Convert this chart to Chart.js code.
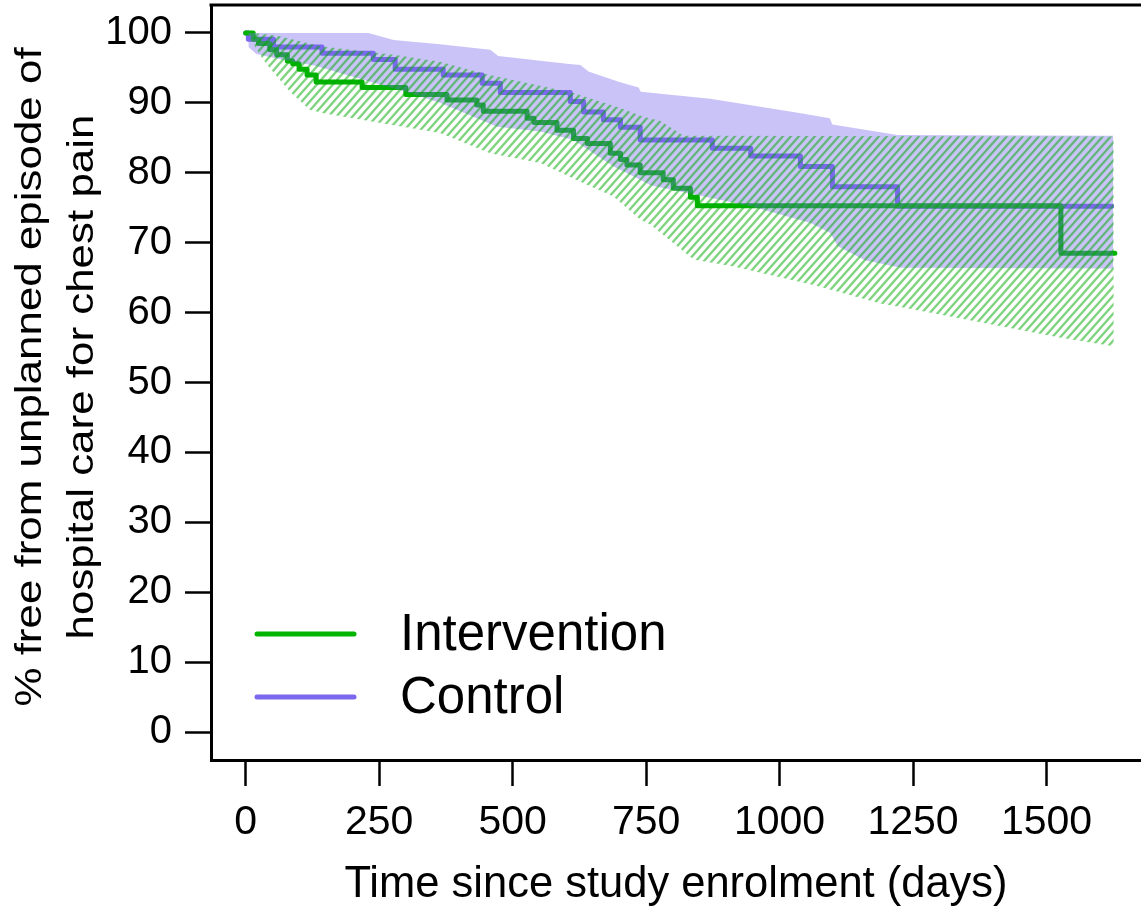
<!DOCTYPE html>
<html lang="en">
<head>
    <meta charset="UTF-8">
    <title>Unplanned hospital care for chest pain</title>
    <script src="https://cdn.jsdelivr.net/npm/chart.js@4.4.1/dist/chart.umd.min.js"></script>
    <style>
        html, body { margin: 0; padding: 0; background: #fff; overflow: hidden; }
        .chart-wrap { position: relative; width: 1141px; height: 917px; }
    </style>
</head>
<body>
    <div class="chart-wrap"><canvas id="kmChart"></canvas></div>
    <script>
    // axis ticks
    const xTicks = [0, 250, 500, 750, 1000, 1250, 1500];
    const yTicks = [0, 10, 20, 30, 40, 50, 60, 70, 80, 90, 100];

    // Kaplan-Meier estimates, [day, % free]
    const interventionKM = [[0,100],[14,99.1],[24,98.5],[45,97.6],[58,96.9],[78,96.0],[88,95.6],[100,94.8],[115,94.0],[132,93.0],[218,92.2],[300,91.2],[377,90.4],[433,89.7],[445,88.8],[527,87.8],[540,87.2],[583,86.1],[614,84.9],[640,84.2],[683,82.8],[702,81.9],[714,81.1],[739,80.0],[782,79.0],[801,77.8],[833,76.5],[846,75.3],[1527,68.5],[1628,68.5]];
    const controlKM = [[0,100],[5,99.1],[52,98.0],[143,97.1],[239,96.2],[280,94.8],[370,94.0],[443,92.8],[477,91.5],[608,90.2],[633,88.7],[670,87.6],[702,86.5],[739,84.7],[874,83.5],[946,82.4],[1039,80.9],[1099,78.0],[1221,75.2],[1622,75.2]];

    // confidence bands
    const interventionUpper = [[14,100],[60,99.6],[140,98.1],[277,96.9],[364,95.9],[445,94.2],[614,91.4],[700,89.3],[745,88.0],[777,87.4],[820,85.3],[1626,85.2]];
    const interventionLower = [[14,98.5],[30,96.5],[45,95.0],[83,91.6],[120,89.0],[146,88.5],[239,87.3],[364,85.7],[458,82.8],[552,81.4],[633,78.5],[689,76.6],[739,73.3],[758,72.6],[839,67.6],[914,66.6],[1071,63.8],[1189,61.3],[1227,60.8],[1527,56.4],[1626,55.2]];
    const controlUpper = [[5,100],[230,100],[277,99.0],[364,98.4],[458,97.6],[473,96.7],[602,95.6],[627,95.4],[642,94.5],[700,93.0],[736,92.2],[740,91.6],[777,91.3],[870,90.6],[1040,88.5],[1094,87.8],[1099,86.9],[1221,85.4],[1625,85.3]];
    const controlLower = [[5,98.0],[20,97.0],[60,96.3],[130,95.3],[220,93.3],[290,91.8],[364,90.0],[471,86.6],[552,85.9],[614,84.7],[689,80.9],[739,79.0],[758,78.2],[946,75.2],[1058,72.8],[1095,71.4],[1109,69.5],[1160,67.5],[1227,66.4],[1625,66.3]];

    const FONT = '"Liberation Sans", Arial, sans-serif';
    const GREEN = '#00b400';
    const PURPLE = '#7b68ee';

    const pts = arr => arr.map(p => ({ x: p[0], y: p[1] }));

    // diagonal hatching for the intervention band
    function hatchPattern() {
        const w = 8, h = 9;
        const c = document.createElement('canvas');
        c.width = w; c.height = h;
        const g = c.getContext('2d');
        g.strokeStyle = 'rgba(0,170,0,0.5)';
        g.lineWidth = 2.4;
        g.beginPath();
        [-1, 0, 1].forEach(k => {
            g.moveTo(k * w - 0.2 * w, 1.2 * h);
            g.lineTo(k * w + 1.2 * w, -0.2 * h);
        });
        g.stroke();
        return g.createPattern(c, 'repeat');
    }

    // top frame line, legend and the y title
    const extras = {
        id: 'extras',
        afterDraw(chart) {
            const { ctx, chartArea: a } = chart;
            ctx.save();
            ctx.strokeStyle = '#000';
            ctx.lineWidth = 3;
            ctx.beginPath();
            ctx.moveTo(a.left - 1.5, a.top);
            ctx.lineTo(a.right, a.top);
            ctx.stroke();

            const items = [
                { label: chart.data.datasets[4].label, color: GREEN, y: a.bottom - 126 },
                { label: chart.data.datasets[5].label, color: PURPLE, y: a.bottom - 63 }
            ];
            ctx.lineCap = 'round';
            ctx.lineWidth = 5;
            ctx.font = '51px ' + FONT;
            ctx.textBaseline = 'middle';
            ctx.fillStyle = '#000';
            items.forEach(it => {
                ctx.strokeStyle = it.color;
                ctx.beginPath();
                ctx.moveTo(a.left + 46, it.y);
                ctx.lineTo(a.left + 143, it.y);
                ctx.stroke();
                ctx.fillText(it.label, a.left + 189, it.y + 2);
            });

            const lines = ['% free from unplanned episode of', 'hospital care for chest pain'];
            const xs = [41, 93];
            ctx.font = '36px ' + FONT;
            ctx.textAlign = 'center';
            ctx.textBaseline = 'alphabetic';
            lines.forEach((t, i) => {
                ctx.save();
                ctx.translate(xs[i], 377);
                ctx.rotate(-Math.PI / 2);
                ctx.scale(1.22, 1);
                ctx.fillText(t, 0, 0);
                ctx.restore();
            });
            ctx.restore();
        }
    };

    document.addEventListener('DOMContentLoaded', function() {
        const ctx = document.getElementById('kmChart').getContext('2d');
        const band = { borderWidth: 0, pointRadius: 0, tension: 0 };
        new Chart(ctx, {
            type: 'line',
            data: {
                datasets: [
                    { ...band, label: 'Intervention upper', data: pts(interventionUpper), fill: '+1', backgroundColor: hatchPattern(), order: 1 },
                    { ...band, label: 'Intervention lower', data: pts(interventionLower), fill: false, order: 1 },
                    { ...band, label: 'Control upper', data: pts(controlUpper), fill: '+1', backgroundColor: 'rgba(123,104,238,0.4)', order: 2 },
                    { ...band, label: 'Control lower', data: pts(controlLower), fill: false, order: 2 },
                    { label: 'Intervention', data: pts(interventionKM), stepped: true, borderColor: GREEN, borderWidth: 5, borderCapStyle: 'round', borderJoinStyle: 'round', pointRadius: 0, fill: false, order: 3 },
                    { label: 'Control', data: pts(controlKM), stepped: true, borderColor: PURPLE, borderWidth: 5, borderCapStyle: 'round', borderJoinStyle: 'round', pointRadius: 0, fill: false, order: 4 }
                ]
            },
            options: {
                responsive: true,
                maintainAspectRatio: false,
                animation: false,
                layout: { padding: { top: 5, right: 0, bottom: 0, left: 0 } },
                plugins: {
                    legend: { display: false },
                    tooltip: { enabled: false }
                },
                scales: {
                    x: {
                        type: 'linear',
                        min: -65,
                        max: 1677,
                        afterBuildTicks: s => { s.ticks = xTicks.map(v => ({ value: v })); },
                        afterFit: s => { s.height = 157; s.paddingLeft = 0; s.paddingRight = 0; },
                        grid: { display: true, drawOnChartArea: false, drawTicks: true, tickLength: 26, tickWidth: 2.5, tickColor: '#000' },
                        border: { display: true, color: '#000', width: 3 },
                        ticks: { color: '#000', font: { family: FONT, size: 41 }, padding: 12, maxRotation: 0, autoSkip: false, callback: v => String(v) },
                        title: { display: true, text: 'Time since study enrolment (days)', color: '#000', font: { family: FONT, size: 43.5 }, padding: { top: 0, bottom: 6 } }
                    },
                    y: {
                        min: -4,
                        max: 104,
                        afterBuildTicks: s => { s.ticks = yTicks.map(v => ({ value: v })); },
                        afterFit: s => { s.width = 211; s.paddingTop = 0; s.paddingBottom = 0; },
                        grid: { display: true, drawOnChartArea: false, drawTicks: true, tickLength: 26, tickWidth: 2.5, tickColor: '#000' },
                        border: { display: true, color: '#000', width: 3 },
                        ticks: { color: '#000', font: { family: FONT, size: 40 }, padding: 13, autoSkip: false, callback: v => String(v) }
                    }
                }
            },
            plugins: [extras]
        });
    });
    </script>
</body>
</html>
